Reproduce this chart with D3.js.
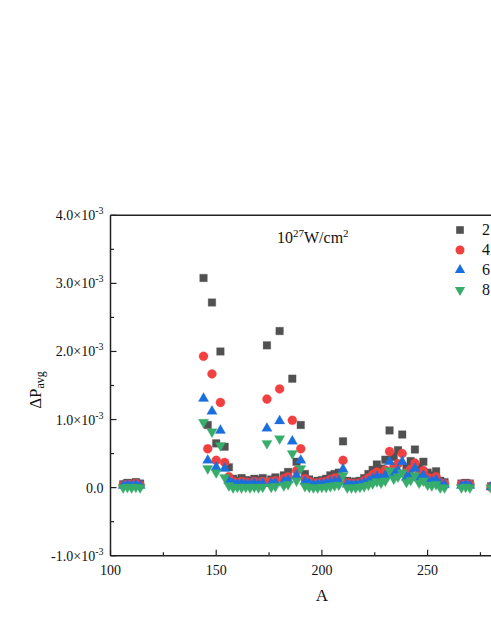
<!DOCTYPE html>
<meta charset="utf-8">
<head>
  <title>Delta P avg vs A</title>
</head>
<style>
body { margin: 0; background: #fff; }
text { font-family: "Liberation Serif", "Times New Roman", serif; fill: #111; }
</style>
<body>
<svg width="491" height="635"></svg>
<script src="https://cdnjs.cloudflare.com/ajax/libs/d3/7.8.5/d3.min.js"></script>
<script>

// values in units of 1e-3
var unit = 1e-3;

var massA = [106, 108, 110, 112, 114,
  144, 146, 148, 150, 152, 154, 156, 158, 160, 162, 164, 166, 168, 170,
  172, 174, 176, 178, 180, 182, 184, 186, 188, 190, 192, 194, 196, 198,
  200, 202, 204, 206, 208, 210, 212, 214, 216, 218, 220, 222, 224, 226,
  228, 230, 232, 234, 236, 238, 240, 242, 244, 246, 248, 250, 252, 254,
  256, 258,
  266, 268, 270, 280];

var series2 = [0.05, 0.07, 0.06, 0.08, 0.06,
  3.08, 0.92, 2.72, 0.65, 2.00, 0.60, 0.30, 0.13, 0.10, 0.14, 0.11, 0.10, 0.13, 0.11,
  0.14, 2.09, 0.12, 0.15, 2.30, 0.18, 0.23, 1.60, 0.38, 0.92, 0.20, 0.12, 0.08, 0.10,
  0.11, 0.13, 0.18, 0.20, 0.22, 0.68, 0.10, 0.08, 0.09, 0.10, 0.14, 0.20, 0.26, 0.34,
  0.28, 0.41, 0.84, 0.45, 0.55, 0.78, 0.30, 0.39, 0.56, 0.30, 0.38, 0.22, 0.18, 0.24,
  0.10, 0.08,
  0.06, 0.07, 0.06, 0.02];

var series4 = [0.04, 0.05, 0.05, 0.06, 0.04,
  1.93, 0.57, 1.67, 0.40, 1.25, 0.37, 0.16, 0.09, 0.07, 0.09, 0.08, 0.07, 0.09, 0.08,
  0.09, 1.30, 0.09, 0.10, 1.45, 0.13, 0.16, 0.99, 0.25, 0.57, 0.13, 0.09, 0.06, 0.07,
  0.08, 0.09, 0.12, 0.14, 0.15, 0.40, 0.07, 0.06, 0.06, 0.07, 0.10, 0.14, 0.19, 0.23,
  0.19, 0.26, 0.53, 0.30, 0.35, 0.50, 0.22, 0.27, 0.36, 0.20, 0.25, 0.15, 0.13, 0.16,
  0.07, 0.06,
  0.05, 0.05, 0.05, 0.01];

var series6 = [0.03, 0.04, 0.03, 0.04, 0.03,
  1.31, 0.40, 1.12, 0.30, 0.84, 0.28, 0.10, 0.06, 0.05, 0.06, 0.05, 0.05, 0.06, 0.05,
  0.06, 0.87, 0.06, 0.07, 0.98, 0.09, 0.11, 0.68, 0.18, 0.40, 0.09, 0.06, 0.04, 0.05,
  0.05, 0.06, 0.08, 0.09, 0.10, 0.27, 0.05, 0.04, 0.04, 0.05, 0.07, 0.09, 0.13, 0.16,
  0.13, 0.18, 0.38, 0.21, 0.25, 0.38, 0.15, 0.19, 0.28, 0.14, 0.18, 0.10, 0.09, 0.11,
  0.05, 0.04,
  0.03, 0.04, 0.03, 0.01];

var series8 = [0.00, 0.01, 0.00, 0.01, 0.00,
  0.96, 0.28, 0.82, 0.22, 0.62, 0.15, 0.03, 0.00, 0.01, 0.00, 0.01, 0.00, 0.01, 0.00,
  0.01, 0.65, 0.01, 0.02, 0.72, 0.03, 0.05, 0.50, 0.10, 0.28, 0.02, 0.01, 0.00, 0.00,
  0.01, 0.01, 0.02, 0.03, 0.04, 0.18, 0.00, 0.00, 0.00, 0.01, 0.02, 0.04, 0.06, 0.09,
  0.07, 0.10, 0.25, 0.13, 0.16, 0.22, 0.08, 0.11, 0.18, 0.07, 0.10, 0.04, 0.03, 0.05,
  0.00, 0.00,
  0.00, 0.01, 0.00, 0.00];

var seriesNames = ["2", "4", "6", "8"];
var seriesColors = ["#515151", "#F14040", "#1A6FDF", "#37AD6B"];
var xTicks = [100, 150, 200, 250];
var yTicks = [-1, 0, 1, 2, 3, 4];

var svg = d3.select("svg");
var pLeft = 110.5, pRight = 533.3, pTop = 215.3, pBottom = 555.7;

var x = d3.scaleLinear().domain([100, 300]).range([pLeft, pRight]);
var y = d3.scaleLinear().domain([-1 * unit, 4 * unit]).range([pBottom, pTop]);

// top frame line (runs off the page on the right)
svg.append("line").attr("x1", pLeft).attr("x2", pRight).attr("y1", pTop).attr("y2", pTop)
  .attr("stroke", "#222").attr("stroke-width", 1.5);

var xMinor = d3.range(100, 301, 25);
var yMinor = d3.range(-1, 4.01, 0.5);

var gx = svg.append("g").attr("transform", "translate(0," + pBottom + ")");
gx.selectAll("line.tk").data(xMinor).enter().append("line")
  .attr("x1", function(d) { return x(d); }).attr("x2", function(d) { return x(d); })
  .attr("y1", 0).attr("y2", function(d) { return d % 50 === 0 ? -6 : -3.5; })
  .attr("stroke", "#222").attr("stroke-width", 1.2);
gx.append("line").attr("x1", pLeft).attr("x2", pRight).attr("stroke", "#222").attr("stroke-width", 1.5);
gx.selectAll("text").data(xTicks).enter().append("text")
  .attr("x", function(d) { return x(d); }).attr("y", 19)
  .attr("text-anchor", "middle").style("font-size", "14px")
  .text(function(d) { return d; });

var gy = svg.append("g").attr("transform", "translate(" + pLeft + ",0)");
gy.selectAll("line.tk").data(yMinor).enter().append("line")
  .attr("y1", function(d) { return y(d * unit); }).attr("y2", function(d) { return y(d * unit); })
  .attr("x1", 0).attr("x2", function(d) { return Math.abs(d % 1) < 1e-9 ? 6 : 3.5; })
  .attr("stroke", "#222").attr("stroke-width", 1.2);
gy.append("line").attr("y1", pTop).attr("y2", pBottom).attr("stroke", "#222").attr("stroke-width", 1.5);

var yLab = gy.selectAll("text").data(yTicks).enter().append("text")
  .attr("x", -7).attr("y", function(d) { return y(d * unit) + 5; })
  .attr("text-anchor", "end").style("font-size", "14px");
yLab.each(function(d) {
  var t = d3.select(this);
  if (d === 0) { t.text("0.0"); return; }
  t.append("tspan").text(d.toFixed(1) + "\u00d710");
  t.append("tspan").attr("dy", -6).style("font-size", "10px").text("-3");
});

// axis titles
var yt = svg.append("text")
  .attr("transform", "translate(41,390) rotate(-90)")
  .attr("text-anchor", "middle").style("font-size", "17px");
yt.append("tspan").text("\u0394P");
yt.append("tspan").attr("dy", 3).style("font-size", "12px").text("avg");

svg.append("text").attr("x", 322).attr("y", 601).attr("text-anchor", "middle")
  .style("font-size", "17px").text("A");

var note = svg.append("text").attr("x", 277).attr("y", 243).style("font-size", "16px");
note.append("tspan").text("10");
note.append("tspan").attr("dy", -6).style("font-size", "11px").text("27");
note.append("tspan").attr("dy", 6).text("W/cm");
note.append("tspan").attr("dy", -6).style("font-size", "11px").text("2");

// markers
var symbols = [
  d3.symbol().type(d3.symbolSquare).size(58),
  d3.symbol().type(d3.symbolCircle).size(64),
  d3.symbol().type(d3.symbolTriangle).size(46),
  d3.symbol().type(d3.symbolTriangle).size(46)
];
var rot = [0, 0, 0, 180];
var allSeries = [series2, series4, series6, series8];

svg.append("defs").append("clipPath").attr("id", "plot")
  .append("rect").attr("x", pLeft).attr("y", pTop).attr("width", pRight - pLeft).attr("height", pBottom - pTop);

var plot = svg.append("g").attr("clip-path", "url(#plot)");
allSeries.forEach(function(vals, si) {
  plot.append("g").selectAll("path").data(vals).enter().append("path")
    .attr("d", symbols[si])
    .attr("transform", function(d, i) {
      return "translate(" + x(massA[i]) + "," + y(d * unit) + ") rotate(" + rot[si] + ")";
    })
    .attr("fill", seriesColors[si])
    .attr("stroke", seriesColors[si]).attr("stroke-opacity", 0.35).attr("stroke-width", 0.8);
});

// legend
var lg = svg.append("g");
seriesNames.forEach(function(name, i) {
  var ly = 230 + i * 20;
  lg.append("path").attr("d", symbols[i])
    .attr("transform", "translate(460," + ly + ") rotate(" + rot[i] + ")")
    .attr("fill", seriesColors[i]);
  lg.append("text").attr("x", 482).attr("y", ly + 5).style("font-size", "16px").text(name);
});

</script>
</body>
</html>
